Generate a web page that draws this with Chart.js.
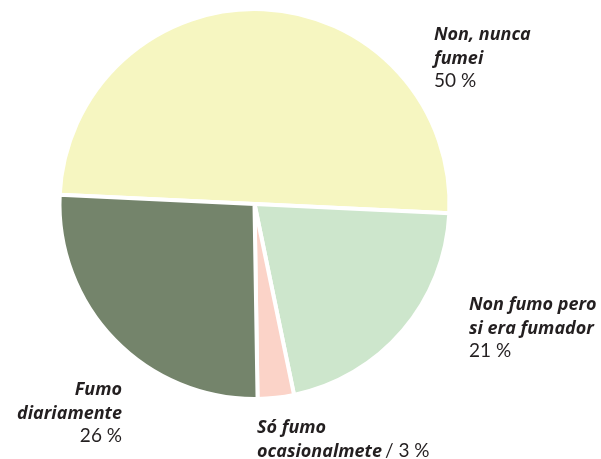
<!DOCTYPE html>
<html>
<head>
<meta charset="utf-8">
<script src="https://cdn.jsdelivr.net/npm/chart.js@4"></script>
<style>
  html, body { margin: 0; padding: 0; background: #fff; }
  #wrap { width: 601px; height: 459px; }
</style>
</head>
<body>
<div id="wrap"><canvas id="smoke-chart" width="601" height="459"></canvas></div>
<script>
// slices, clockwise from the left edge
const categories = ['Non, nunca fumei', 'Non fumo pero si era fumador', 'Só fumo ocasionalmete', 'Fumo diariamente']
const shares = [50, 21, 3, 26]
const sliceColors = ['#f6f6c1', '#cde6cc', '#fbd3c8', '#74846b']

// label text: bold lines + percentage (same order as categories)
const labelLines = [
  ['Non, nunca', 'fumei'],
  ['Non fumo pero', 'si era fumador'],
  ['Só fumo', 'ocasionalmete'],
  ['Fumo', 'diariamente'],
]
// where each label block sits (x, first baseline, align)
const labelPos = [
  { x: 434, y: 40, align: 'left' },
  { x: 469, y: 310, align: 'left' },
  { x: 257, y: 433, align: 'left', inline: true },
  { x: 122, y: 395, align: 'right' },
]

const textColor = '#231f20'
const boldFont = 'italic bold 18px "Open Sans"'
const pctFont = '19px Lato'
const lineH = 23.5

const labelPlugin = {
  id: 'sliceLabels',
  afterDraw(chart) {
    const ctx = chart.ctx
    ctx.save()
    ctx.fillStyle = textColor
    ctx.textBaseline = 'alphabetic'
    labelPos.forEach((p, i) => {
      const lines = labelLines[i]
      const pct = shares[i] + ' %'
      ctx.textAlign = p.align
      ctx.font = boldFont
      lines.forEach((l, j) => {
        ctx.fillText(l, p.x, p.y + j * lineH)
      })
      if (p.inline) {
        // percentage goes on the same line as the last bold line
        const last = lines[lines.length - 1]
        const w = ctx.measureText(last).width
        ctx.font = pctFont
        ctx.textAlign = 'left'
        ctx.fillText('/ ' + pct, p.x + w + 3, p.y + (lines.length - 1) * lineH)
      } else {
        ctx.font = pctFont
        ctx.fillText(pct, p.x, p.y + lines.length * lineH)
      }
    })
    ctx.restore()
  },
}

const canvas = document.querySelector('#smoke-chart')

new Chart(canvas, {
  type: 'pie',
  data: {
    labels: categories,
    datasets: [
      {
        data: shares,
        backgroundColor: sliceColors,
        borderColor: '#ffffff',
        borderWidth: 4,
        hoverOffset: 0,
      },
    ],
  },
  options: {
    responsive: false,
    animation: false,
    rotation: 272.7,
    radius: 195,
    layout: {
      padding: { left: 0, right: 92, top: 0, bottom: 51 },
    },
    plugins: {
      legend: { display: false },
      tooltip: { enabled: false },
    },
  },
  plugins: [labelPlugin],
})
</script>
</body>
</html>
